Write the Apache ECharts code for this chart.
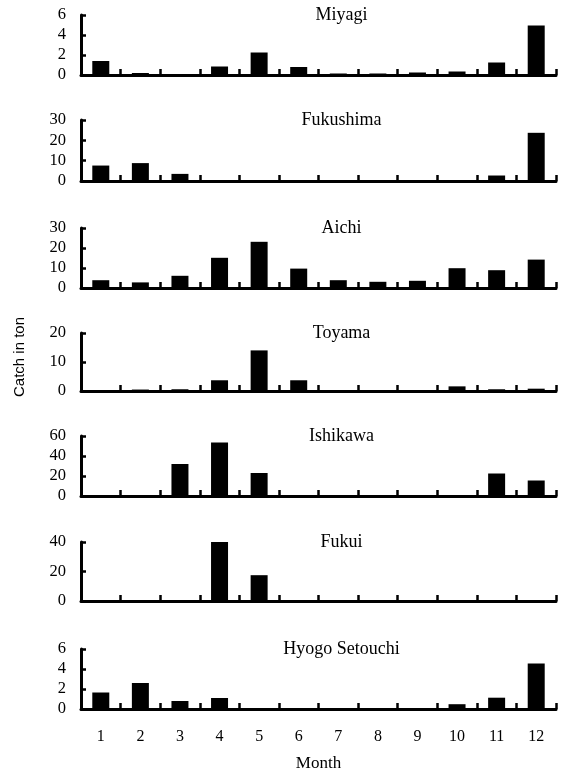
<!DOCTYPE html>
<html>
<head>
<meta charset="utf-8">
<script src="https://cdn.jsdelivr.net/npm/echarts@6/dist/echarts.min.js"></script>
<style>
html,body{margin:0;padding:0;background:#fff;}
#chart{width:566px;height:773px;}
</style>
</head>
<body>
<div id="chart"></div>
<script>
var months = ['1','2','3','4','5','6','7','8','9','10','11','12'];
var prefectures = ['Miyagi','Fukushima','Aichi','Toyama','Ishikawa','Fukui','Hyogo Setouchi'];
var miyagi    = [1.4, 0.2, 0, 0.85, 2.25, 0.8, 0.15, 0.15, 0.25, 0.35, 1.25, 4.95];
var fukushima = [7.6, 8.8, 3.5, 0, 0, 0, 0, 0, 0, 0, 2.7, 23.7];
var aichi     = [3.9, 2.8, 6.1, 15.1, 23.1, 9.7, 3.9, 3.1, 3.6, 9.9, 8.9, 14.2];
var toyama    = [0, 0.5, 0.6, 3.7, 14, 3.7, 0, 0, 0, 1.6, 0.6, 0.8];
var ishikawa  = [0, 0, 32, 53.5, 23, 0, 0, 0, 0, 0, 22.5, 15.5];
var fukui     = [0, 0, 0, 40.5, 17.5, 0, 0, 0, 0, 0, 0, 0];
var hyogo     = [1.65, 2.6, 0.8, 1.1, 0, 0, 0, 0.1, 0, 0.48, 1.13, 4.55];
var yMax      = [6, 30, 30, 20, 60, 40, 6];
var yStep     = [2, 10, 10, 10, 20, 20, 2];
var seriesData = [miyagi, fukushima, aichi, toyama, ishikawa, fukui, hyogo];

// layout (pixels)
var gridTops    = [15, 120, 228, 333, 436, 542, 649];
var gridBottoms = [75, 181, 288, 391, 496, 601, 710];
var gridLeft = 81, gridWidth = 475;
var serif = 'Liberation Serif, Times New Roman, serif';

var grids = [], xAxes = [], yAxes = [], series = [], graphics = [];
for (var i = 0; i < 7; i++) {
  var last = (i === 6);
  grids.push({left: gridLeft, width: gridWidth, top: gridTops[i], height: gridBottoms[i] - gridTops[i]});
  xAxes.push({
    type: 'category', gridIndex: i, data: months, boundaryGap: true,
    axisLine: {show: true, lineStyle: {color: '#000', width: 3}},
    axisTick: {show: true, inside: true, length: 6, interval: 0, lineStyle: {color: '#000', width: 2.5}},
    axisLabel: {show: last, color: '#000', fontFamily: serif, fontSize: 16, margin: 20, interval: 0},
    name: last ? 'Month' : '', nameLocation: 'middle', nameGap: 46,
    nameTextStyle: {color: '#000', fontFamily: serif, fontSize: 17},
    splitLine: {show: false}
  });
  yAxes.push({
    type: 'value', gridIndex: i, min: 0, max: yMax[i], interval: yStep[i],
    axisLine: {show: true, lineStyle: {color: '#000', width: 3}},
    axisTick: {show: true, inside: true, length: 5, lineStyle: {color: '#000', width: 2.5}},
    axisLabel: {color: '#000', fontFamily: serif, fontSize: 16.5, margin: 15},
    splitLine: {show: false}
  });
  series.push({
    type: 'bar', xAxisIndex: i, yAxisIndex: i, data: seriesData[i],
    barWidth: 17, itemStyle: {color: '#000'}, silent: true
  });
  graphics.push({
    type: 'text', x: 341.5, y: gridTops[i],
    style: {text: prefectures[i], fill: '#000', font: '18px ' + serif, textAlign: 'center', textVerticalAlign: 'middle'}
  });
}
graphics.push({
  type: 'text', x: 20, y: 357, rotation: Math.PI / 2,
  style: {text: 'Catch in ton', fill: '#000', font: '15px Liberation Sans, Arial, sans-serif', textAlign: 'center', textVerticalAlign: 'middle'}
});

var chart = echarts.init(document.getElementById('chart'), null, {renderer: 'canvas'});
chart.setOption({
  animation: false,
  backgroundColor: '#fff',
  grid: grids, xAxis: xAxes, yAxis: yAxes, series: series, graphic: graphics
});
</script>
</body>
</html>
